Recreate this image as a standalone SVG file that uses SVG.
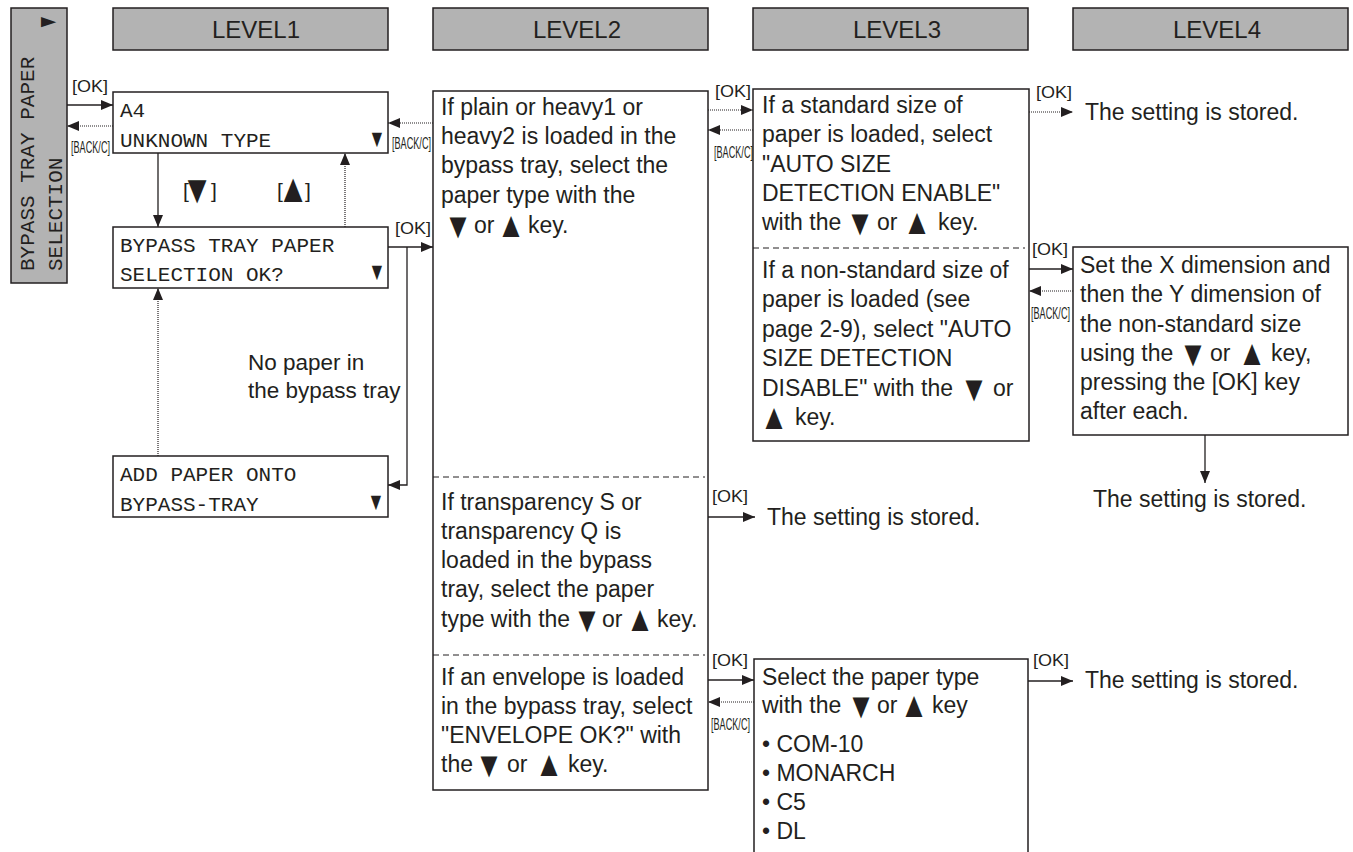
<svg xmlns="http://www.w3.org/2000/svg" width="1353" height="852" viewBox="0 0 1353 852">
<style>
.box{fill:#fff;stroke:#231f20;stroke-width:1.5}
.hdr{fill:#b3b3b3;stroke:#231f20;stroke-width:1.5}
.t{font-family:"Liberation Sans",Arial,sans-serif;font-size:23px;fill:#231f20}
.m{font-family:"Liberation Mono","Courier New",monospace;font-size:21px;fill:#231f20}
.h{font-family:"Liberation Sans",Arial,sans-serif;font-size:24px;fill:#231f20;text-anchor:middle}
.ok{font-family:"Liberation Sans",Arial,sans-serif;font-size:16.5px;fill:#231f20}
.bk{font-family:"Liberation Sans",Arial,sans-serif;font-size:16px;fill:#231f20}
.ln{stroke:#231f20;stroke-width:1.3;fill:none}
.dt{stroke:#231f20;stroke-width:1.2;stroke-dasharray:1 1;fill:none}
.ds{stroke:#231f20;stroke-width:1;stroke-dasharray:6 4;fill:none}
.tri{font-family:"Liberation Sans","DejaVu Sans",sans-serif;font-size:36px;fill:#231f20;text-anchor:middle}
.tl{font-size:40px}
.tc{font-size:25px}
.tb{font-size:17px}
</style>
<defs>
<marker id="ah" markerUnits="userSpaceOnUse" markerWidth="12" markerHeight="10" refX="12" refY="5" orient="auto">
<path d="M0,0 L12,5 L0,10 z" fill="#231f20"/>
</marker>
</defs>

<g id="left-bar">
<rect class="hdr" x="11" y="8" width="56" height="275"/>
<text class="tri tb" transform="translate(48.5,27) scale(1.5,1)">►</text>
<text class="m" transform="translate(34,271) rotate(-90)">BYPASS TRAY PAPER</text>
<text class="m" transform="translate(62,271) rotate(-90)">SELECTION</text>
</g>

<g id="hdr-level1"><rect class="hdr" x="113" y="8" width="275" height="42"/><text class="h" x="256" y="38">LEVEL1</text></g>
<g id="hdr-level2"><rect class="hdr" x="433" y="8" width="275" height="42"/><text class="h" x="577" y="38">LEVEL2</text></g>
<g id="hdr-level3"><rect class="hdr" x="753" y="8" width="275" height="42"/><text class="h" x="897" y="38">LEVEL3</text></g>
<g id="hdr-level4"><rect class="hdr" x="1073" y="8" width="275" height="42"/><text class="h" x="1217" y="38">LEVEL4</text></g>

<g id="l1-a4">
<rect class="box" x="113" y="92" width="275" height="61"/>
<text class="m" x="120" y="117">A4</text>
<text class="m" x="120" y="147">UNKNOWN TYPE</text>
<text class="tri tc" transform="translate(377,147) scale(0.7,1)">▼</text>
</g>

<g id="l1-confirm">
<rect class="box" x="113" y="227" width="275" height="61"/>
<text class="m" x="120" y="252">BYPASS TRAY PAPER</text>
<text class="m" x="120" y="281">SELECTION OK?</text>
<text class="tri tc" transform="translate(377,280) scale(0.7,1)">▼</text>
</g>

<g id="l1-add">
<rect class="box" x="113" y="456" width="275" height="61"/>
<text class="m" x="120" y="481">ADD PAPER ONTO</text>
<text class="m" x="120" y="511">BYPASS-TRAY</text>
<text class="tri tc" transform="translate(376,510) scale(0.7,1)">▼</text>
</g>

<g id="note-nopaper">
<text class="t" style="font-size:22.5px" x="248" y="370">No paper in</text>
<text class="t" style="font-size:22.5px" x="248" y="398">the bypass tray</text>
</g>

<g id="l2-box">
<rect class="box" x="433" y="91" width="275" height="699"/>
<line class="ds" x1="433" y1="477" x2="705" y2="477"/>
<line class="ds" x1="433" y1="655" x2="705" y2="655"/>
<text class="t" x="441" y="115">If plain or heavy1 or</text>
<text class="t" x="441" y="144">heavy2 is loaded in the</text>
<text class="t" x="441" y="173">bypass tray, select the</text>
<text class="t" x="441" y="203">paper type with the</text>
<text class="tri" transform="translate(458,238) scale(0.8,1)">▼</text><text class="t" x="474" y="233">or</text><text class="tri" transform="translate(511,237) scale(0.8,1)">▲</text><text class="t" x="528" y="233">key.</text>
<text class="t" x="441" y="510">If transparency S or</text>
<text class="t" x="441" y="539">transparency Q is</text>
<text class="t" x="441" y="568">loaded in the bypass</text>
<text class="t" x="441" y="597">tray, select the paper</text>
<text class="t" x="441" y="627">type with the</text><text class="tri" transform="translate(587,632) scale(0.8,1)">▼</text><text class="t" x="602" y="627">or</text><text class="tri" transform="translate(640,631) scale(0.8,1)">▲</text><text class="t" x="657" y="627">key.</text>
<text class="t" x="441" y="685">If an envelope is loaded</text>
<text class="t" x="441" y="714">in the bypass tray, select</text>
<text class="t" x="441" y="743">"ENVELOPE OK?" with</text>
<text class="t" x="441" y="772">the</text><text class="tri" transform="translate(489,777) scale(0.8,1)">▼</text><text class="t" x="507" y="772">or</text><text class="tri" transform="translate(549,776) scale(0.8,1)">▲</text><text class="t" x="568" y="772">key.</text>
</g>

<g id="l3-box">
<rect class="box" x="753" y="89" width="276" height="352"/>
<line class="ds" x1="753" y1="248" x2="1025" y2="248"/>
<text class="t" x="762" y="113">If a standard size of</text>
<text class="t" x="762" y="142">paper is loaded, select</text>
<text class="t" x="762" y="172">"AUTO SIZE</text>
<text class="t" x="762" y="201">DETECTION ENABLE"</text>
<text class="t" x="762" y="230">with the</text><text class="tri" transform="translate(860,235) scale(0.8,1)">▼</text><text class="t" x="877" y="230">or</text><text class="tri" transform="translate(917,234) scale(0.8,1)">▲</text><text class="t" x="938" y="230">key.</text>
<text class="t" x="762" y="278">If a non-standard size of</text>
<text class="t" x="762" y="307">paper is loaded (see</text>
<text class="t" x="762" y="337">page 2-9), select "AUTO</text>
<text class="t" x="762" y="366">SIZE DETECTION</text>
<text class="t" x="762" y="396">DISABLE" with the</text><text class="tri" transform="translate(974,401) scale(0.8,1)">▼</text><text class="t" x="993" y="396">or</text>
<text class="tri" transform="translate(774,429) scale(0.8,1)">▲</text><text class="t" x="795" y="425">key.</text>
</g>

<g id="l4-box">
<rect class="box" x="1073" y="247" width="275" height="188"/>
<text class="t" x="1080" y="273">Set the X dimension and</text>
<text class="t" x="1080" y="302">then the Y dimension of</text>
<text class="t" x="1080" y="332">the non-standard size</text>
<text class="t" x="1080" y="361">using the</text><text class="tri" transform="translate(1193,366) scale(0.8,1)">▼</text><text class="t" x="1210" y="361">or</text><text class="tri" transform="translate(1252,365) scale(0.8,1)">▲</text><text class="t" x="1271" y="361">key,</text>
<text class="t" x="1080" y="390">pressing the [OK] key</text>
<text class="t" x="1080" y="419">after each.</text>
</g>

<g id="l3-envelope">
<path class="box" d="M754,870 V659 H1028 V870"/>
<text class="t" x="762" y="685">Select the paper type</text>
<text class="t" x="762" y="713">with the</text><text class="tri" transform="translate(861,718) scale(0.8,1)">▼</text><text class="t" x="877" y="713">or</text><text class="tri" transform="translate(914,717) scale(0.8,1)">▲</text><text class="t" x="932" y="713">key</text>
<text class="t" x="762" y="752">• COM-10</text>
<text class="t" x="762" y="781">• MONARCH</text>
<text class="t" x="762" y="810">• C5</text>
<text class="t" x="762" y="839">• DL</text>
</g>

<g id="stored-1"><text class="t" x="1085" y="120">The setting is stored.</text></g>
<g id="stored-2"><text class="t" x="1093" y="507">The setting is stored.</text></g>
<g id="stored-3"><text class="t" x="767" y="525">The setting is stored.</text></g>
<g id="stored-4"><text class="t" x="1085" y="688">The setting is stored.</text></g>

<g id="connectors">
<line class="ln" x1="67" y1="105" x2="113" y2="105" marker-end="url(#ah)"/>
<line class="dt" x1="113" y1="126" x2="67" y2="126" marker-end="url(#ah)"/>
<line class="ln" x1="158" y1="153" x2="158" y2="227" marker-end="url(#ah)"/>
<line class="dt" x1="345" y1="227" x2="345" y2="153" marker-end="url(#ah)"/>
<line class="ln" x1="388" y1="247" x2="433" y2="247" marker-end="url(#ah)"/>
<polyline class="ln" points="407,247 407,485 388,485" marker-end="url(#ah)"/>
<line class="dt" x1="158" y1="456" x2="158" y2="288" marker-end="url(#ah)"/>
<line class="dt" x1="433" y1="123" x2="388" y2="123" marker-end="url(#ah)"/>
<line class="dt" x1="708" y1="110" x2="753" y2="110" marker-end="url(#ah)"/>
<line class="dt" x1="753" y1="130" x2="708" y2="130" marker-end="url(#ah)"/>
<line class="dt" x1="1029" y1="112" x2="1073" y2="112" marker-end="url(#ah)"/>
<line class="ln" x1="1029" y1="269" x2="1073" y2="269" marker-end="url(#ah)"/>
<line class="dt" x1="1073" y1="291" x2="1029" y2="291" marker-end="url(#ah)"/>
<line class="ln" x1="1205" y1="435" x2="1205" y2="483" marker-end="url(#ah)"/>
<line class="ln" x1="708" y1="517" x2="755" y2="517" marker-end="url(#ah)"/>
<line class="ln" x1="708" y1="680" x2="754" y2="680" marker-end="url(#ah)"/>
<line class="dt" x1="754" y1="702" x2="708" y2="702" marker-end="url(#ah)"/>
<line class="ln" x1="1028" y1="681" x2="1073" y2="681" marker-end="url(#ah)"/>
<text class="ok" x="72" y="92" textLength="36" lengthAdjust="spacingAndGlyphs">[OK]</text>
<text class="bk" x="71" y="153" textLength="39" lengthAdjust="spacingAndGlyphs">[BACK/C]</text>
<text class="t" style="font-size:21px" x="183" y="198">[</text><text class="tri tl" transform="translate(197,203) scale(0.8,1)">▼</text><text class="t" style="font-size:21px" x="211" y="198">]</text>
<text class="t" style="font-size:21px" x="277" y="198">[</text><text class="tri tl" transform="translate(293,202) scale(0.8,1)">▲</text><text class="t" style="font-size:21px" x="305" y="198">]</text>
<text class="ok" x="395" y="234" textLength="36" lengthAdjust="spacingAndGlyphs">[OK]</text>
<text class="bk" x="392" y="149" textLength="39" lengthAdjust="spacingAndGlyphs">[BACK/C]</text>
<text class="ok" x="715" y="97" textLength="36" lengthAdjust="spacingAndGlyphs">[OK]</text>
<text class="bk" x="714" y="158" textLength="39" lengthAdjust="spacingAndGlyphs">[BACK/C]</text>
<text class="ok" x="1036" y="98" textLength="36" lengthAdjust="spacingAndGlyphs">[OK]</text>
<text class="ok" x="1032" y="255" textLength="36" lengthAdjust="spacingAndGlyphs">[OK]</text>
<text class="bk" x="1031" y="319" textLength="39" lengthAdjust="spacingAndGlyphs">[BACK/C]</text>
<text class="ok" x="712" y="502" textLength="36" lengthAdjust="spacingAndGlyphs">[OK]</text>
<text class="ok" x="712" y="666" textLength="36" lengthAdjust="spacingAndGlyphs">[OK]</text>
<text class="bk" x="711" y="730" textLength="39" lengthAdjust="spacingAndGlyphs">[BACK/C]</text>
<text class="ok" x="1033" y="666" textLength="36" lengthAdjust="spacingAndGlyphs">[OK]</text>
</g>
</svg>
